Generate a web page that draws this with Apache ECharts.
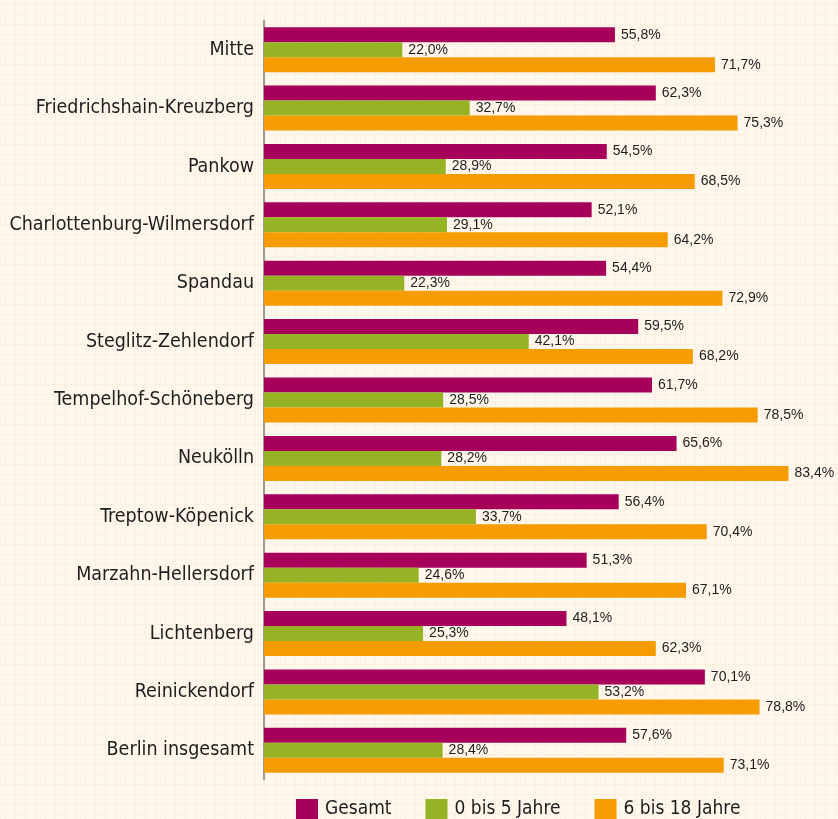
<!DOCTYPE html>
<html>
<head>
<meta charset="utf-8">
<script src="https://cdn.jsdelivr.net/npm/echarts@6/dist/echarts.min.js"></script>
<style>
  html, body {
    margin: 0;
    padding: 0;
  }
  body {
    background-color: #fff7ec;
    background-image:
      linear-gradient(to right, #fcefdf 1px, transparent 1px),
      linear-gradient(to bottom, #fcefdf 1px, transparent 1px);
    background-size: 10px 10px;
    background-position: 5px 4px;
  }
  #chart {
    width: 838px;
    height: 819px;
  }
</style>
</head>
<body>
<div id="chart"></div>
<script>
  const districts = [
    'Mitte',
    'Friedrichshain-Kreuzberg',
    'Pankow',
    'Charlottenburg-Wilmersdorf',
    'Spandau',
    'Steglitz-Zehlendorf',
    'Tempelhof-Schöneberg',
    'Neukölln',
    'Treptow-Köpenick',
    'Marzahn-Hellersdorf',
    'Lichtenberg',
    'Reinickendorf',
    'Berlin insgesamt'
  ]
  const seriesNames = ['Gesamt', '0 bis 5 Jahre', '6 bis 18 Jahre']
  const gesamt = [55.8, 62.3, 54.5, 52.1, 54.4, 59.5, 61.7, 65.6, 56.4, 51.3, 48.1, 70.1, 57.6]
  const age0to5 = [22.0, 32.7, 28.9, 29.1, 22.3, 42.1, 28.5, 28.2, 33.7, 24.6, 25.3, 53.2, 28.4]
  const age6to18 = [71.7, 75.3, 68.5, 64.2, 72.9, 68.2, 78.5, 83.4, 70.4, 67.1, 62.3, 78.8, 73.1]

  const colors = ['#a6005b', '#95b324', '#f59c00']
  const labelFont = '"DejaVu Sans Condensed", "Liberation Sans Narrow", "Liberation Sans", sans-serif'

  const formatPct = (v) => v.toFixed(1).replace('.', ',') + '%'

  const makeSeries = (name, data) => ({
    name,
    type: 'bar',
    data,
    barWidth: 15,
    barGap: '0%',
    label: {
      show: true,
      position: 'right',
      distance: 6,
      color: '#1e1e1e',
      fontFamily: '"Liberation Sans", sans-serif',
      fontSize: 14,
      formatter: (p) => formatPct(p.value)
    }
  })

  const chart = echarts.init(document.getElementById('chart'))
  chart.setOption({
    backgroundColor: 'transparent',
    color: colors,
    animation: false,
    grid: {
      left: 264,
      right: 8,
      top: 20.5,
      bottom: 39.5,
      outerBoundsMode: 'none',
      containLabel: false
    },
    xAxis: {
      type: 'value',
      min: 0,
      max: 90,
      show: false
    },
    yAxis: {
      type: 'category',
      data: districts,
      inverse: true,
      axisLine: { show: true, lineStyle: { color: '#9c9a96', width: 2 } },
      axisTick: { show: false },
      axisLabel: {
        margin: 10,
        color: '#1e1e1e',
        fontFamily: labelFont,
        fontSize: 19.5
      }
    },
    legend: {
      data: seriesNames,
      left: 296,
      top: 799,
      padding: 0,
      itemWidth: 22,
      itemHeight: 20,
      itemGap: 34,
      icon: 'rect',
      textStyle: {
        color: '#1e1e1e',
        fontFamily: labelFont,
        fontSize: 19,
        padding: [0, 0, 0, 2]
      }
    },
    series: [
      makeSeries(seriesNames[0], gesamt),
      makeSeries(seriesNames[1], age0to5),
      makeSeries(seriesNames[2], age6to18)
    ]
  })
</script>
</body>
</html>
